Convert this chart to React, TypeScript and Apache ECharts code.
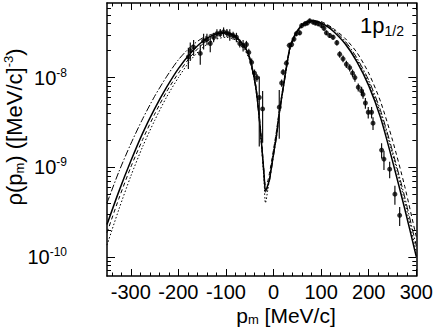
import React, { useEffect, useRef } from 'react';
import * as echarts from 'echarts';

// ---------- axis ticks ----------
const xTickLabels = [-300, -200, -100, 0, 100, 200, 300];
const xMinorTicks = [-340, -320, -300, -280, -260, -240, -220, -200, -180, -160, -140, -120, -100, -80, -60, -40, -20, 0, 20, 40, 60, 80, 100, 120, 140, 160, 180, 200, 220, 240, 260, 280, 300];
const yTickLabels = [1e-10, 1e-9, 1e-8];
const yMinorTicks = [7e-11, 8e-11, 9e-11, 2e-10, 3e-10, 4e-10, 5e-10, 6e-10, 7e-10, 8e-10, 9e-10, 2e-9, 3e-9, 4e-9, 5e-9, 6e-9, 7e-9, 8e-9, 9e-9, 2e-8, 3e-8, 4e-8, 5e-8, 6e-8];

// ---------- measured points (p_m [MeV/c], rho, error) ----------
const pointsX = [-179, -175, -168, -154, -147, -140, -133, -126, -119, -112, -105, -98, -92, -85, -78, -71, -64, -57, -52, -46, -40, -35, -30, -23,
  12, 17, 20, 27, 33, 38, 43, 48, 55, 59, 66, 71, 76, 83, 88, 94, 101, 106, 111, 118, 125, 133, 139, 146, 153, 160, 166, 171, 178, 185, 188, 193, 199, 206, 209, 227, 232, 244, 255, 265];
const pointsY = [1.70e-8, 2.0e-8, 2.19e-8, 1.86e-8, 2.57e-8, 2.69e-8, 2.4e-8, 2.82e-8, 3.09e-8, 3.16e-8, 3.24e-8, 3.16e-8, 3.02e-8, 2.95e-8, 2.82e-8, 2.4e-8, 2.29e-8, 2.34e-8, 1.91e-8, 1.48e-8, 1.12e-8, 1.0e-8, 6.0e-9, 4.47e-9,
  4.68e-9, 8.7e-9, 1.15e-8, 1.45e-8, 2.29e-8, 2.34e-8, 2.69e-8, 3.09e-8, 3.16e-8, 3.8e-8, 3.98e-8, 4.07e-8, 4.3e-8, 4.17e-8, 4.07e-8, 3.98e-8, 3.8e-8, 3.55e-8, 3.16e-8, 2.95e-8, 2.82e-8, 2.45e-8, 1.82e-8, 1.62e-8, 1.41e-8, 1.29e-8, 1.12e-8, 1.0e-8, 7.8e-9, 7.1e-9, 6.5e-9, 5.2e-9, 4.1e-9, 4.1e-9, 3.1e-9, 1.55e-9, 1.23e-9, 9.5e-10, 5.0e-10, 2.9e-10];
const pointsErr = [4.5e-9, 4.6e-9, 4.4e-9, 4.7e-9, 5.1e-9, 4.0e-9, 4.8e-9, 3.4e-9, 3.7e-9, 3.2e-9, 3.9e-9, 3.2e-9, 4.5e-9, 3.0e-9, 3.4e-9, 2.4e-9, 3.4e-9, 2.3e-9, 1.9e-9, 1.5e-9, 1.1e-9, 1.0e-9, 4.3e-9, 2.6e-9,
  2.6e-9, 8e-10, 9e-10, 1.1e-9, 1.6e-9, 1.6e-9, 1.8e-9, 2.0e-9, 2.0e-9, 2.4e-9, 2.4e-9, 2.4e-9, 2.5e-9, 2.5e-9, 2.4e-9, 2.4e-9, 2.3e-9, 2.2e-9, 2.0e-9, 1.9e-9, 1.8e-9, 1.7e-9, 1.5e-9, 1.4e-9, 1.3e-9, 1.2e-9, 1.1e-9, 1.0e-9, 8e-10, 8e-10, 7e-10, 7e-10, 6e-10, 6e-10, 5e-10, 3e-10, 3e-10, 2e-10, 1.2e-10, 7e-11];

// ---------- calculated curves ----------
const curveX = [-350, -325, -300, -275, -250, -225, -200, -175, -150, -125, -100, -80, -60, -50, -40, -35, -30, -25, -20, -17, -12, -8, 0, 6, 12, 20, 28, 35, 45, 55, 65, 80, 95, 110, 125, 150, 175, 200, 225, 250, 275, 300];
const curveSolid = [2.29e-10, 5.37e-10, 1.17e-9, 2.40e-9, 4.47e-9, 7.76e-9, 1.26e-8, 1.86e-8, 2.51e-8, 3.02e-8, 3.16e-8, 2.88e-8, 2.19e-8, 1.66e-8, 9.55e-9, 6.31e-9, 3.55e-9, 1.78e-9, 8.32e-10, 5.50e-10, 6.31e-10, 7.59e-10, 1.41e-9, 2.24e-9, 3.98e-9, 7.59e-9, 1.41e-8, 2.24e-8, 3.02e-8, 3.63e-8, 4.07e-8, 4.32e-8, 4.17e-8, 3.80e-8, 3.31e-8, 2.40e-8, 1.51e-8, 8.13e-9, 3.55e-9, 1.17e-9, 3.55e-10, 1.0e-10];
const curveDashDot = [3.98e-10, 8.91e-10, 1.82e-9, 3.47e-9, 6.17e-9, 1.02e-8, 1.58e-8, 2.19e-8, 2.75e-8, 3.09e-8, 3.16e-8, 2.82e-8, 2.09e-8, 1.58e-8, 9.12e-9, 6.03e-9, 3.39e-9, 1.70e-9, 7.94e-10, 5.25e-10, 6.03e-10, 7.24e-10, 1.35e-9, 2.14e-9, 3.80e-9, 7.24e-9, 1.35e-8, 2.14e-8, 2.95e-8, 3.55e-8, 3.98e-8, 4.27e-8, 4.17e-8, 3.89e-8, 3.47e-8, 2.57e-8, 1.66e-8, 9.33e-9, 4.27e-9, 1.51e-9, 4.79e-10, 1.32e-10];
const curveDashed = [1.86e-10, 4.47e-10, 1.0e-9, 2.04e-9, 3.89e-9, 6.92e-9, 1.12e-8, 1.70e-8, 2.34e-8, 2.82e-8, 3.02e-8, 2.82e-8, 2.14e-8, 1.66e-8, 1.0e-8, 6.76e-9, 3.80e-9, 1.91e-9, 8.91e-10, 6.31e-10, 7.08e-10, 8.91e-10, 1.58e-9, 2.51e-9, 4.27e-9, 7.94e-9, 1.45e-8, 2.19e-8, 2.95e-8, 3.55e-8, 3.98e-8, 4.27e-8, 4.27e-8, 3.98e-8, 3.55e-8, 2.75e-8, 1.91e-8, 1.12e-8, 5.37e-9, 2.00e-9, 6.31e-10, 1.66e-10];
const curveDotted = [1.35e-10, 3.39e-10, 7.94e-10, 1.70e-9, 3.31e-9, 6.03e-9, 1.0e-8, 1.55e-8, 2.14e-8, 2.63e-8, 2.82e-8, 2.63e-8, 2.00e-8, 1.55e-8, 9.33e-9, 6.31e-9, 3.47e-9, 1.66e-9, 7.08e-10, 3.98e-10, 5.62e-10, 7.94e-10, 1.51e-9, 2.40e-9, 4.07e-9, 7.59e-9, 1.38e-8, 2.14e-8, 2.88e-8, 3.47e-8, 3.89e-8, 4.17e-8, 4.07e-8, 3.80e-8, 3.31e-8, 2.45e-8, 1.58e-8, 8.71e-9, 3.98e-9, 1.41e-9, 4.27e-10, 1.12e-10];

const FONT = "'Liberation Sans', Arial, Helvetica, sans-serif";
const BLACK = '#000';

function makeCurve(values: number[], type: any, width: number) {
  return {
    type: 'line',
    data: curveX.map((x, i) => [x, values[i]]),
    showSymbol: false,
    smooth: 0.25,
    lineStyle: { color: BLACK, width, type },
    silent: true,
    z: 2,
  };
}

function xAx(position: 'top' | 'bottom', ticks: number[], len: number, labels: boolean, line: boolean) {
  return {
    type: 'value',
    min: -350,
    max: 300,
    position,
    axisLine: { show: line, onZero: false, lineStyle: { color: BLACK, width: 1.5 } },
    axisTick: { show: true, inside: true, length: len, customValues: ticks, lineStyle: { color: BLACK, width: 1 } },
    axisLabel: labels
      ? { show: true, customValues: xTickLabels, color: BLACK, fontSize: 20, lineHeight: 20, fontFamily: FONT, margin: 6 }
      : { show: false },
    splitLine: { show: false },
  };
}

function yAx(position: 'left' | 'right', ticks: number[], len: number, labels: boolean, line: boolean) {
  return {
    type: 'log',
    logBase: 10,
    min: 6.1e-11,
    max: 6.8e-8,
    position,
    axisLine: { show: line, onZero: false, lineStyle: { color: BLACK, width: 1.5 } },
    axisTick: { show: true, inside: true, length: len, customValues: ticks, lineStyle: { color: BLACK, width: 1 } },
    axisLabel: labels
      ? {
          show: true,
          customValues: yTickLabels,
          margin: 40,
          formatter: (v: number) => `{b|10}{sup|${Math.round(Math.log10(v))}}`,
          rich: {
            b: { fontSize: 20, lineHeight: 22, fontFamily: FONT, color: BLACK },
            sup: { fontSize: 12, lineHeight: 12, verticalAlign: 'top', fontFamily: FONT, color: BLACK },
          },
        }
      : { show: false },
    splitLine: { show: false },
  };
}

const option: any = {
  animation: false,
  backgroundColor: '#fff',
  grid: { left: 107, top: 3, width: 310, height: 273, containLabel: false },
  xAxis: [
    xAx('bottom', xTickLabels, 7, true, true),
    xAx('bottom', xMinorTicks, 3.5, false, false),
    xAx('top', xTickLabels, 7, false, true),
    xAx('top', xMinorTicks, 3.5, false, false),
  ],
  yAxis: [
    yAx('left', yTickLabels, 8, true, true),
    yAx('left', yMinorTicks, 4, false, false),
    yAx('right', yTickLabels, 8, false, true),
    yAx('right', yMinorTicks, 4, false, false),
  ],
  series: [
    makeCurve(curveDotted, [1.5, 2], 1),
    makeCurve(curveDashed, [4, 3], 1),
    makeCurve(curveDashDot, [7, 2, 1.5, 2], 1),
    makeCurve(curveSolid, 'solid', 1.5),
    {
      type: 'custom',
      data: pointsX.map((x, i) => [x, pointsY[i] - pointsErr[i], pointsY[i] + pointsErr[i]]),
      encode: { x: 0, y: [1, 2] },
      renderItem: (params: any, api: any) => {
        const p1 = api.coord([api.value(0), api.value(1)]);
        const p2 = api.coord([api.value(0), api.value(2)]);
        return {
          type: 'line',
          shape: { x1: p1[0], y1: p1[1], x2: p2[0], y2: p2[1] },
          style: { stroke: '#111', lineWidth: 1.2 },
        };
      },
      silent: true,
      z: 3,
    },
    {
      type: 'scatter',
      data: pointsX.map((x, i) => [x, pointsY[i]]),
      symbol: 'circle',
      symbolSize: 5,
      itemStyle: { color: BLACK },
      silent: true,
      z: 4,
    },
  ],
  graphic: [
    {
      type: 'text',
      x: 360,
      y: 13,
      style: {
        text: '{b|1p}{sub|1/2}',
        rich: {
          b: { fontSize: 22, lineHeight: 25, fontFamily: FONT, fill: BLACK },
          sub: { fontSize: 14, lineHeight: 14, verticalAlign: 'bottom', fontFamily: FONT, fill: BLACK },
        },
      },
    },
    {
      type: 'text',
      x: 286,
      y: 315,
      style: {
        text: '{b|p}{sub|m}{b| [MeV/c]}',
        align: 'center',
        verticalAlign: 'middle',
        rich: {
          b: { fontSize: 21, lineHeight: 21, fontFamily: FONT, fill: BLACK },
          sub: { fontSize: 13, lineHeight: 13, verticalAlign: 'bottom', fontFamily: FONT, fill: BLACK },
        },
      },
    },
    {
      type: 'text',
      x: 14,
      y: 127,
      rotation: Math.PI / 2,
      style: {
        text: '{b|ρ(p}{sub|m}{b|) ([MeV/c]}{sup|-3}{b|)}',
        align: 'center',
        verticalAlign: 'middle',
        rich: {
          b: { fontSize: 22, lineHeight: 24, fontFamily: FONT, fill: BLACK },
          sub: { fontSize: 13, lineHeight: 13, verticalAlign: 'bottom', fontFamily: FONT, fill: BLACK },
          sup: { fontSize: 13, lineHeight: 13, verticalAlign: 'top', fontFamily: FONT, fill: BLACK },
        },
      },
    },
  ],
};

export default function App() {
  const ref = useRef<HTMLDivElement>(null);
  useEffect(() => {
    const chart = echarts.init(ref.current as HTMLDivElement, null, { renderer: 'svg' });
    chart.setOption(option);
    return () => chart.dispose();
  }, []);
  return (
    <div
      ref={ref}
      style={{ position: 'fixed', left: 0, top: 0, width: 436, height: 327, background: '#fff' }}
    />
  );
}
